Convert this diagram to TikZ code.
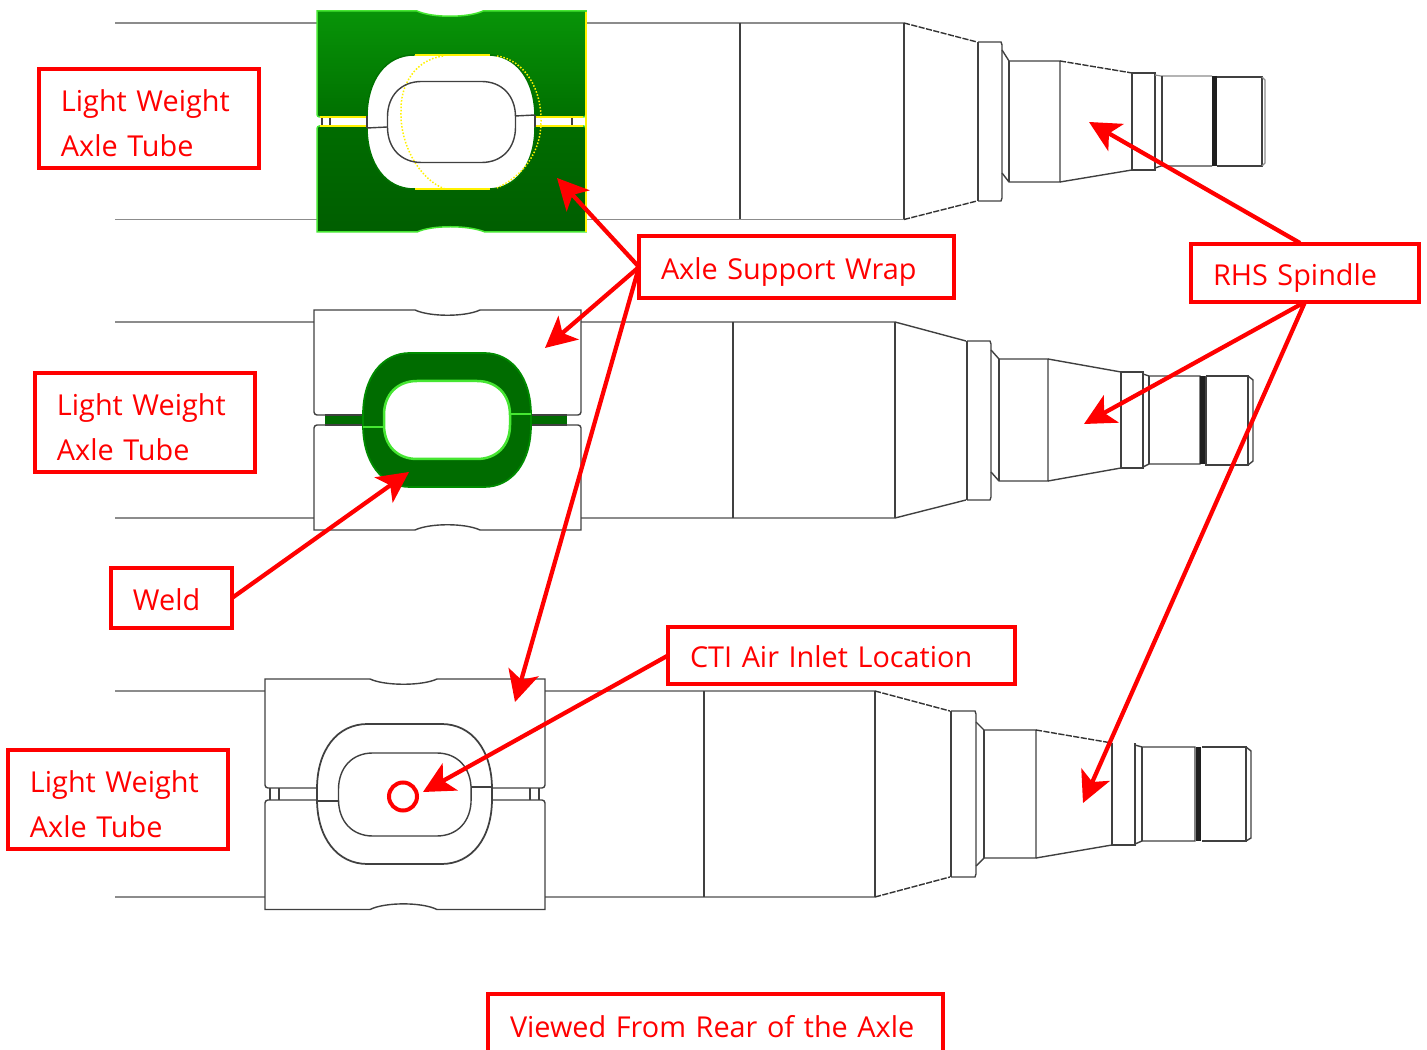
\documentclass[tikz,border=0pt]{standalone}
\usepackage{fontspec}
\setmainfont[WordSpace=0.6]{Open Sans}
\usetikzlibrary{arrows.meta, positioning}

\definecolor{wrapA}{RGB}{8,148,8}
\definecolor{wrapB}{RGB}{0,112,0}
\definecolor{wrapC}{RGB}{0,108,0}
\definecolor{wrapD}{RGB}{0,94,0}
\definecolor{edge}{RGB}{70,230,50}
\definecolor{redline}{RGB}{255,0,0}

% centre x, centre y, half width, half height, half flat top, half flat side
\newcommand{\ovalpath}[6]{({#1-#5},{#2-#4}) -- ({#1+#5},{#2-#4})
  .. controls ({#1+#5+.6*(#3-#5)},{#2-#4}) and ({#1+#3},{#2-#6-.6*(#4-#6)}) .. ({#1+#3},{#2-#6})
  -- ({#1+#3},{#2+#6})
  .. controls ({#1+#3},{#2+#6+.6*(#4-#6)}) and ({#1+#5+.6*(#3-#5)},{#2+#4}) .. ({#1+#5},{#2+#4})
  -- ({#1-#5},{#2+#4})
  .. controls ({#1-#5-.6*(#3-#5)},{#2+#4}) and ({#1-#3},{#2+#6+.6*(#4-#6)}) .. ({#1-#3},{#2+#6})
  -- ({#1-#3},{#2-#6})
  .. controls ({#1-#3},{#2-#6-.6*(#4-#6)}) and ({#1-#5-.6*(#3-#5)},{#2-#4}) .. ({#1-#5},{#2-#4}) -- cycle}

\tikzset{
  cad/.style={line width=0.028cm, black!75},
  dashcad/.style={line width=0.028cm, black!80, dash pattern=on 3.5pt off 0.8pt},
  tube/.style={line width=0.024cm, black!45},
  heavy/.style={line width=0.05cm, black!75},
  groove/.style={line width=0.11cm, black!88},
  callout/.style={draw=redline, line width=0.07cm, text=redline, anchor=north west,
    align=left, inner xsep=0.44cm, inner ysep=0cm, outer sep=0cm,
    font=\fontsize{16.4}{25.6}\selectfont,
    execute at begin node={\rule{0pt}{0.5cm}}},
  lowtext/.style={execute at begin node={\rule{0pt}{0.64cm}}},
  pointer/.style={->, redline, line width=0.085cm},
}

\begin{document}
\begin{tikzpicture}[x=0.02cm, y=-0.02cm, >={Stealth[length=0.62cm, width=0.62cm, inset=0.16cm]}]
		\useasboundingbox (0,0) rectangle (1427,1050);

		% --- Top view: tube and spindle
		\draw[tube] (115,23) -- (904,23);
		\draw[tube] (115,219.5) -- (904,219.5);
		\draw[cad] (740,23) -- (740,219.5);
		\draw[heavy] (904,23) -- (904,219.5);
		\draw[dashcad] (904,23) -- (977,42);
		\draw[dashcad] (904,219.5) -- (977,201);
		\draw[heavy] (978,42) -- (978,201);
		\draw[cad] (978,42) -- (1001,42) -- (1002,45) -- (1002,198) -- (1001,201) -- (978,201);
		\draw[cad] (1002,50) -- (1009,61) -- (1060,61) -- (1060,182) -- (1009,182) -- (1002,173);
		\draw[cad] (1009,61) -- (1009,182);
		\draw[dashcad] (1060,61) -- (1132,73);
		\draw[cad] (1060,182) -- (1132,170);
		\draw[cad] (1132,73) rectangle (1155,170);
		\draw[tube] (1155,75) -- (1161,76) -- (1212,76);
		\draw[cad] (1155,168) -- (1161,166) -- (1212,166);
		\draw[cad] (1162,76) -- (1162,166);
		\draw[groove] (1214.5,76) -- (1214.5,166);
		\draw[cad] (1217,77) -- (1262,77) -- (1262,166) -- (1217,166);
		\draw[tube] (1262,77) -- (1265,80) -- (1265,163) -- (1262,166);

		% --- Top view: axle support wrap
		\path[top color=wrapA, bottom color=wrapB, draw=edge, line width=0.03cm]
			(320,117) [rounded corners=0.05cm] -- (317,117) [sharp corners] -- (317,11) -- (417,11) .. controls (432,18) and (468,18) .. (483,11) -- (586,11) [rounded corners=0.05cm] -- (586,117) [sharp corners] -- cycle;
		\path[top color=wrapC, bottom color=wrapD, draw=edge, line width=0.03cm]
			(320,126) [rounded corners=0.05cm] -- (317,126) [sharp corners] -- (317,232) -- (417,232) .. controls (432,225) and (468,225) .. (485,232) -- (586,232) [rounded corners=0.05cm] -- (586,126) [sharp corners] -- cycle;
		\fill[white] (317,118) rectangle (586,125);
		\draw[yellow, line width=0.03cm] (320,117) -- (367,117) (320,126) -- (367,126) (535,117) -- (583,117) (535,126) -- (583,126);
		\draw[fill=white, draw=black!55!green, line width=0.03cm] \ovalpath{451}{122}{84}{67}{37}{5};
		\draw[yellow, line width=0.03cm] (415,55) -- (490,55) (415,189) -- (490,189);
		\draw[yellow, line width=0.03cm, densely dotted] (443,56) .. controls (415,60) and (400,85) .. (401,112) .. controls (400,145) and (420,180) .. (445,189);
		\draw[yellow, line width=0.03cm, densely dotted] (497,56) .. controls (525,60) and (542,90) .. (541,122) .. controls (541,150) and (525,175) .. (497,188);
		\draw[cad] \ovalpath{451.5}{122}{64}{40.5}{30}{5};
		\draw[cad] (367,128) -- (387.5,127) (515,116) -- (535,115);
		\draw[cad] (367,116) -- (367,128) (535,115) -- (535,127);
		\draw[cad] (322,118) -- (322,125) (330,118) -- (330,125) (572,118) -- (572,125);
		\draw[yellow, line width=0.03cm] (586,12) -- (586,232);

		% --- Middle view: tube and spindle
		\draw[tube] (115,322) -- (314,322) (581,322) -- (895,322);
		\draw[tube] (115,518) -- (314,518) (581,518) -- (895,518);
		\draw[cad] (733,322) -- (733,518);
		\draw[heavy] (895,322) -- (895,518);
		\draw[cad] (895,322) -- (966,341);
		\draw[cad] (895,518) -- (966,500);
		\draw[heavy] (967,341) -- (967,500);
		\draw[cad] (967,341) -- (990,341) -- (991,344) -- (991,497) -- (990,500) -- (967,500);
		\draw[cad] (991,350) -- (999,359) -- (1048,359) -- (1048,481) -- (999,481) -- (991,472);
		\draw[cad] (999,359) -- (999,481);
		\draw[cad] (1048,359) -- (1121,372);
		\draw[cad] (1048,481) -- (1121,468);
		\draw[cad] (1121,372) rectangle (1143,468);
		\draw[cad] (1143,374) -- (1149,376) -- (1200,376) -- (1200,464) -- (1149,464) -- (1143,467);
		\draw[cad] (1149,376) -- (1149,464);
		\draw[groove] (1203,376) -- (1203,464);
		\draw[cad] (1206,376) -- (1248,376) -- (1248,465) -- (1206,465) -- (1206,376);
		\draw[cad] (1248,376) -- (1253,380) -- (1253,461) -- (1248,465);

		% --- Middle view: axle support wrap
		\fill[wrapC] (325,416) rectangle (567,425);
		\draw[cad] (325,415) [rounded corners=0.06cm] -- (314,415) [sharp corners] -- (314,310) -- (415,310) .. controls (430,317) and (465,317) .. (480,310) -- (581,310) [rounded corners=0.06cm] -- (581,415) [sharp corners] -- (567,415);
		\draw[cad] (325,425) [rounded corners=0.06cm] -- (314,425) [sharp corners] -- (314,530) -- (415,530) .. controls (430,523) and (465,523) .. (480,530) -- (581,530) [rounded corners=0.06cm] -- (581,425) [sharp corners] -- (567,425);
		\draw[cad] (325,415) -- (567,415) (325,425) -- (567,425);
		\draw[fill=wrapC, draw=black!45!green, line width=0.035cm] \ovalpath{447}{420}{84}{67}{37}{5};
		\draw[fill=white, draw=edge, line width=0.05cm] \ovalpath{447}{420}{63}{39}{30}{5};
		\draw[edge, line width=0.025cm] (363,427) -- (384,427) (510,414) -- (531,414);

		% --- Bottom view: tube and spindle
		\draw[tube] (115,691) -- (265,691) (545,691) -- (875,691);
		\draw[tube] (115,897) -- (265,897) (545,897) -- (875,897);
		\draw[cad] (704,691) -- (704,897);
		\draw[heavy] (875,691) -- (875,897);
		\draw[dashcad] (875,691) -- (950,711);
		\draw[dashcad] (875,897) -- (950,877);
		\draw[heavy] (951,711) -- (951,877);
		\draw[cad] (951,711) -- (975,711) -- (976,714) -- (976,874) -- (975,877) -- (951,877);
		\draw[cad] (976,722) -- (984,730) -- (1036,730) -- (1036,858) -- (984,858) -- (976,866);
		\draw[cad] (984,730) -- (984,858);
		\draw[dashcad] (1036,730) -- (1112,743);
		\draw[cad] (1036,858) -- (1112,845);
		\draw[cad] (1112,743) -- (1112,845) -- (1135,845) -- (1135,743);
		\draw[cad] (1135,745) -- (1142,747) -- (1195,747) -- (1195,841) -- (1142,841) -- (1135,844);
		\draw[cad] (1142,747) -- (1142,841);
		\draw[groove] (1198.5,747) -- (1198.5,841);
		\draw[cad] (1202,747) -- (1246,747) -- (1246,841) -- (1202,841);
		\draw[cad] (1246,747) -- (1251,751) -- (1251,838) -- (1246,841);

		% --- Bottom view: axle support wrap
		\draw[cad] (317,788) [rounded corners=0.06cm] -- (265,788) [sharp corners] -- (265,679) -- (370,679) .. controls (385,686) and (422,686) .. (437,679) -- (545,679) [rounded corners=0.06cm] -- (545,788) [sharp corners] -- (492,788);
		\draw[cad] (317,800) [rounded corners=0.06cm] -- (265,800) [sharp corners] -- (265,909.5) -- (370,909.5) .. controls (385,902) and (422,902) .. (437,909.5) -- (545,909.5) [rounded corners=0.06cm] -- (545,800) [sharp corners] -- (492,800);
		\draw[cad] (270,788) -- (270,800) (279,788) -- (279,800) (530,788) -- (530,800) (539,788) -- (539,800);
		\draw[heavy, line width=0.035cm, fill=white] \ovalpath{404.5}{794}{87.5}{70}{37}{5};
		\draw[cad] \ovalpath{404.8}{794.5}{66.3}{41.5}{32}{5};
		\draw[cad] (317,801) -- (338.5,801) (471,787) -- (492,787);

		% --- Callout boxes
		\node[callout, lowtext, text width=3.52cm, minimum height=1.98cm] (tubeA) at (39,69) {Light Weight\\Axle Tube};
		\node[callout, lowtext, text width=3.52cm, minimum height=1.98cm] (tubeB) at (35,373) {Light Weight\\Axle Tube};
		\node[callout, lowtext, text width=3.52cm, minimum height=1.98cm] (tubeC) at (8,750) {Light Weight\\Axle Tube};
		\node[callout, lowtext, text width=5.42cm, minimum height=1.24cm] (wrap) at (639,236) {Axle Support Wrap};
		\node[callout, lowtext, text width=3.68cm, minimum height=1.16cm] (spindle) at (1191,244) {RHS Spindle};
		\node[callout, text width=1.54cm, minimum height=1.2cm] (weld) at (111,568) {Weld};
		\node[callout, text width=6.06cm, minimum height=1.14cm] (inlet) at (668,627) {CTI Air Inlet Location};
		\node[callout, text width=8.22cm, minimum height=1.24cm] (rear) at (488,994) {Viewed From Rear of the Axle};

		% --- Arrow targets
		\coordinate (wrapTop) at (557,178);
		\coordinate (wrapMid) at (545,348);
		\coordinate (wrapLow) at (515,702);
		\coordinate (spinTop) at (1089,122);
		\coordinate (spinMid) at (1084,424);
		\coordinate (spinLow) at (1083,803);
		\coordinate (spinFrom) at (1300,243);
		\coordinate (weldTip) at (409,472);

		% Air inlet ring
		\node[draw=redline, line width=0.08cm, circle, minimum size=0.56cm, inner sep=0cm] (air) at (403,796.5) {};
		\coordinate (airTip) at (423,792);

		% Arrows
		\draw[pointer] (wrap.west) -- (wrapTop);
		\draw[pointer] (wrap.west) -- (wrapMid);
		\draw[pointer] (wrap.west) -- (wrapLow);
		\draw[pointer] (spinFrom) -- (spinTop);
		\draw[pointer] (spindle.south) -- (spinMid);
		\draw[pointer] (spindle.south) -- (spinLow);
		\draw[pointer] (weld.east) -- (weldTip);
		\draw[pointer] (inlet.west) -- (airTip);

	\end{tikzpicture}
\end{document}
